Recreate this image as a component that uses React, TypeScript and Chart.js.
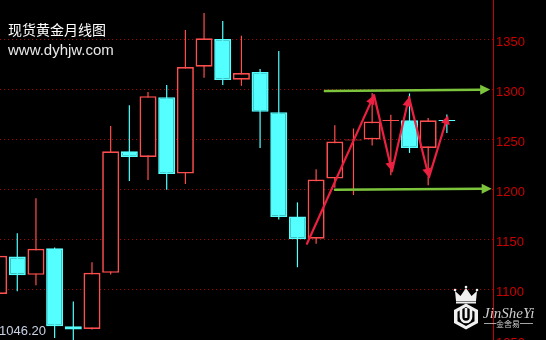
import React, { useEffect, useRef } from 'react';
import { Chart, registerables } from 'chart.js';

Chart.register(...registerables);

// ---- data (monthly gold candles, index 0 is partly cut off at the left) ----
const candleIdx = [0, 1, 2, 3, 4, 5, 6, 7, 8, 9, 10, 11, 12, 13, 14, 15, 16, 17, 18, 19, 20, 21, 22, 23, 24];
const opens = [1096, 1133.3, 1115, 1141.6, 1063.6, 1061, 1117, 1238.3, 1232.6, 1292.3, 1216, 1322.6, 1350.3, 1309.6, 1317.3, 1277.3, 1173.3, 1151, 1211, 1249, 1250, 1268.5, 1269.3, 1241.6, 1269.5];
const closes = [1134, 1114.6, 1141, 1063.6, 1060.6, 1117, 1238.3, 1232.6, 1293.3, 1215.6, 1322.3, 1351, 1309.3, 1316.3, 1277.6, 1172.6, 1150.6, 1210, 1248, 1250, 1268, 1269.5, 1241.6, 1269.3, 1268.5];
const highs = [1137, 1156.6, 1191.3, 1142.3, 1088.3, 1127.6, 1263.6, 1284.3, 1297.3, 1304.3, 1359.3, 1376.3, 1368.3, 1353.6, 1320.3, 1338.3, 1187.3, 1220.3, 1264.3, 1261, 1296.3, 1274.6, 1296, 1271.6, 1275];
const lows = [1093, 1098.6, 1104.6, 1052, 1046.2, 1060.5, 1115.3, 1208.6, 1209.6, 1200, 1205.6, 1311.6, 1304.3, 1303.6, 1241.6, 1170.3, 1122.6, 1146, 1202, 1194.6, 1244, 1214.3, 1236.6, 1204.3, 1256.6];

const yTicks = [1050, 1100, 1150, 1200, 1250, 1300, 1350];

// zigzag arrow path (index, price)
const zigzagX = [16.51, 20.1, 21.06, 21.97, 23.04, 24.06];
const zigzagY = [1146, 1294.3, 1218.3, 1292.3, 1212.3, 1274.3];

// green channel arrows
const resistanceX = [17.47, 26.32];
const resistanceY = [1298.3, 1299.8];
const supportX = [18.01, 26.4];
const supportY = [1200, 1201];

const titleText = '现货黄金月线图';
const siteText = 'www.dyhjw.com';
const lowLabel = '1046.20';

const UP = '#ff4e4e';
const DOWN = '#54ffff';

function drawArrow(ctx: CanvasRenderingContext2D, x1: number, y1: number, x2: number, y2: number, color: string, lw: number, headLen: number, headW: number) {
  const ang = Math.atan2(y2 - y1, x2 - x1);
  const bx = x2 - headLen * Math.cos(ang);
  const by = y2 - headLen * Math.sin(ang);
  ctx.strokeStyle = color;
  ctx.lineWidth = lw;
  ctx.lineCap = 'round';
  ctx.beginPath();
  ctx.moveTo(x1, y1);
  ctx.lineTo(bx, by);
  ctx.stroke();
  ctx.fillStyle = color;
  ctx.beginPath();
  ctx.moveTo(x2, y2);
  ctx.lineTo(bx + headW * Math.sin(ang), by - headW * Math.cos(ang));
  ctx.lineTo(bx - headW * Math.sin(ang), by + headW * Math.cos(ang));
  ctx.closePath();
  ctx.fill();
}

const bgPlugin = {
  id: 'bgFill',
  beforeDraw(chart: any) {
    const ctx = chart.ctx;
    ctx.save();
    ctx.fillStyle = '#000';
    ctx.fillRect(0, 0, chart.width, chart.height);
    ctx.restore();
  },
};

const annotationPlugin = {
  id: 'annot',
  afterDatasetsDraw(chart: any) {
    const ctx: CanvasRenderingContext2D = chart.ctx;
    const xs = chart.scales.x;
    const ys = chart.scales.y;
    ctx.save();
    const greens = [
      [resistanceX, resistanceY],
      [supportX, supportY],
    ];
    greens.forEach(([gx, gy]) => {
      drawArrow(ctx, xs.getPixelForValue(gx[0]), ys.getPixelForValue(gy[0]), xs.getPixelForValue(gx[1]), ys.getPixelForValue(gy[1]), '#7cc43c', 2.5, 10, 5);
    });
    for (let i = 0; i < zigzagX.length - 1; i++) {
      drawArrow(
        ctx,
        xs.getPixelForValue(zigzagX[i]),
        ys.getPixelForValue(zigzagY[i]),
        xs.getPixelForValue(zigzagX[i + 1]),
        ys.getPixelForValue(zigzagY[i + 1]),
        '#ec2040',
        2.2,
        9,
        4.5
      );
    }
    ctx.restore();
  },
  afterDraw(chart: any) {
    const ctx: CanvasRenderingContext2D = chart.ctx;
    ctx.save();
    ctx.textBaseline = 'alphabetic';
    ctx.textAlign = 'left';
    ctx.fillStyle = '#ffffff';
    ctx.font = '14px "Noto Sans CJK SC"';
    ctx.fillText(titleText, 8, 35);
    ctx.fillStyle = '#e8e8e8';
    ctx.font = '15px "Liberation Sans", Arial, sans-serif';
    ctx.fillText(siteText, 8, 55);
    ctx.fillStyle = '#c8d2e4';
    ctx.font = '13px "Liberation Sans", Arial, sans-serif';
    ctx.fillText(lowLabel, -1, 334.5);

    // logo: crown
    ctx.fillStyle = '#f0f0f0';
    ctx.strokeStyle = '#f0f0f0';
    ctx.beginPath();
    ctx.moveTo(456, 301);
    ctx.lineTo(455, 291);
    ctx.lineTo(460.5, 296);
    ctx.lineTo(466, 288);
    ctx.lineTo(471.5, 296);
    ctx.lineTo(477, 291);
    ctx.lineTo(476, 301);
    ctx.closePath();
    ctx.fill();
    ctx.fillRect(456, 301.5, 20, 2);
    [455, 466, 477].forEach((cx, k) => {
      ctx.beginPath();
      ctx.arc(cx, k === 1 ? 287 : 290, 1.3, 0, Math.PI * 2);
      ctx.fill();
    });
    const hex = (cx: number, cy: number, w: number, h: number) => {
      ctx.beginPath();
      ctx.moveTo(cx, cy - h / 2);
      ctx.lineTo(cx + w / 2, cy - h / 4);
      ctx.lineTo(cx + w / 2, cy + h / 4);
      ctx.lineTo(cx, cy + h / 2);
      ctx.lineTo(cx - w / 2, cy + h / 4);
      ctx.lineTo(cx - w / 2, cy - h / 4);
      ctx.closePath();
    };
    hex(466, 316.5, 24, 26);
    ctx.fill();
    ctx.fillStyle = '#000';
    hex(466, 316.5, 17, 19);
    ctx.fill();
    ctx.strokeStyle = '#f0f0f0';
    ctx.lineWidth = 2.6;
    ctx.beginPath();
    ctx.moveTo(461, 309);
    ctx.lineTo(461, 317);
    ctx.arc(466, 317, 5, Math.PI, 0, true);
    ctx.lineTo(471, 309);
    ctx.stroke();
    ctx.beginPath();
    ctx.moveTo(466, 308);
    ctx.lineTo(466, 318);
    ctx.stroke();
    ctx.fillStyle = '#cfcfcf';
    ctx.font = 'italic 15px "Liberation Serif", "DejaVu Serif", serif';
    ctx.fillText('JinSheYi', 483, 318);
    ctx.font = '8px "Noto Sans CJK SC"';
    ctx.textAlign = 'center';
    ctx.fillText('金舍易', 508, 326.5);
    ctx.fillRect(484, 323, 12, 0.8);
    ctx.fillRect(520, 323, 13, 0.8);
    ctx.restore();
  },
};

export default function App() {
  const ref = useRef<HTMLCanvasElement | null>(null);

  useEffect(() => {
    document.body.style.margin = '0';
    document.body.style.background = '#000';
    if (!ref.current) return;
    const isUp = (i: number) => closes[i] >= opens[i];
    const colorOf = (i: number) => (isUp(i) ? UP : DOWN);

    const chart = new Chart(ref.current, {
      type: 'bar',
      data: {
        datasets: [
          {
            label: 'wick',
            data: candleIdx.map((x, i) => ({ x, y: [lows[i], highs[i]] })) as any,
            backgroundColor: candleIdx.map((_, i) => colorOf(i)),
            borderWidth: 0,
            barThickness: 1.2,
            grouped: false,
            order: 2,
            inflateAmount: 0,
          } as any,
          {
            label: 'body',
            data: candleIdx.map((x, i) => ({ x, y: [opens[i], closes[i]] })) as any,
            backgroundColor: candleIdx.map((_, i) => (isUp(i) ? '#000000' : DOWN)),
            borderColor: candleIdx.map((_, i) => colorOf(i)),
            borderWidth: 1.7,
            borderSkipped: false,
            barThickness: 17,
            grouped: false,
            order: 1,
            inflateAmount: 0,
          } as any,
        ],
      },
      options: {
        animation: false,
        responsive: false,
        devicePixelRatio: 1,
        layout: { padding: 0 },
        plugins: { legend: { display: false }, tooltip: { enabled: false }, title: { display: false } },
        scales: {
          x: {
            type: 'linear',
            display: false,
            offset: false,
            min: 0.075,
            max: 26.47,
            grid: { display: false },
            afterFit: (s: any) => {
              s.paddingLeft = 0;
              s.paddingRight = 0;
            },
          },
          y: {
            position: 'right',
            min: 1050,
            max: 1389.2,
            afterBuildTicks: (s: any) => {
              s.ticks = yTicks.map((v) => ({ value: v }));
            },
            afterFit: (s: any) => {
              s.width = 53;
              s.paddingTop = 0;
              s.paddingBottom = 0;
            },
            grid: { color: '#b00000', drawTicks: false, lineWidth: 1 },
            border: { display: true, color: '#c80000', width: 1, dash: [1, 3] },
            ticks: {
              color: '#cc0000',
              font: { family: '"Liberation Sans", Arial, sans-serif', size: 13 },
              padding: 3,
              labelOffset: 3,
              callback: (v: any) => String(v),
            },
          },
        },
      },
      plugins: [bgPlugin, annotationPlugin],
    });
    return () => chart.destroy();
  }, []);

  return (
    <div style={{ position: 'fixed', left: 0, top: 0, width: 546, height: 340, background: '#000' }}>
      <canvas ref={ref} width={546} height={340} style={{ display: 'block', width: 546, height: 340 }} />
    </div>
  );
}
